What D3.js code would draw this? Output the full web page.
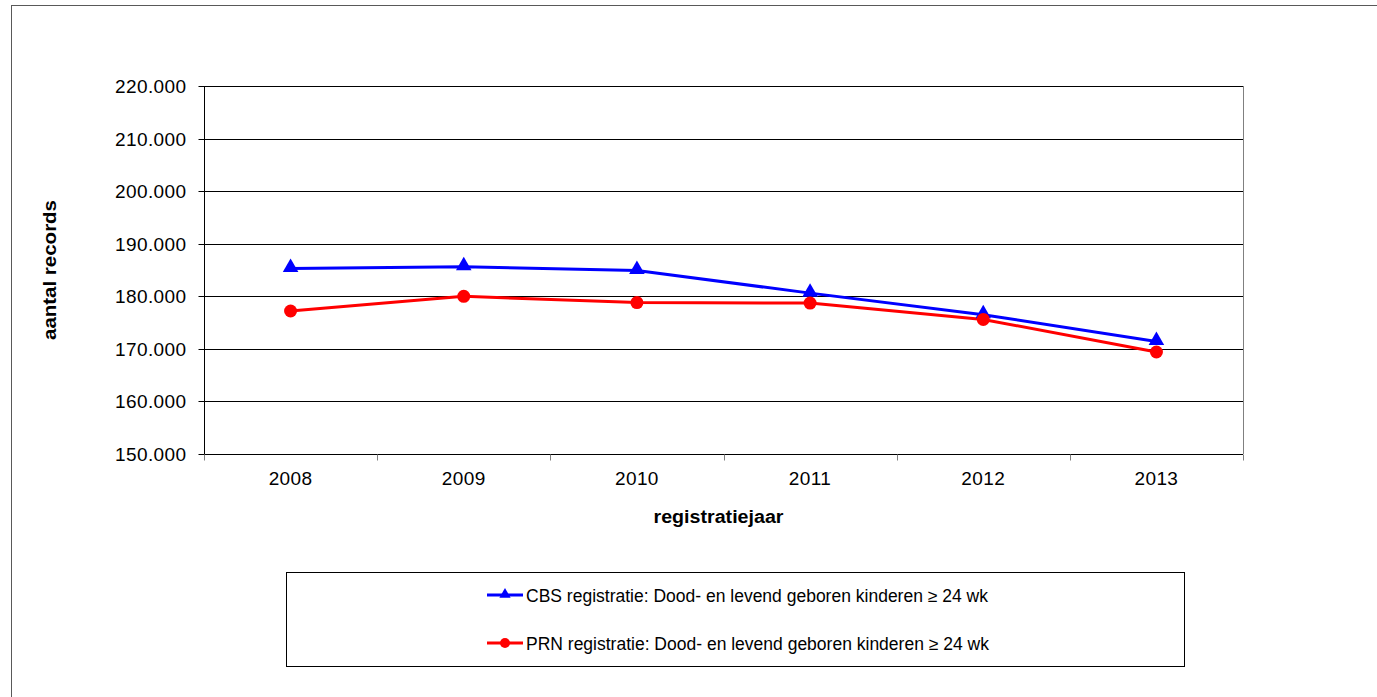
<!DOCTYPE html>
<html><head><meta charset="utf-8">
<script src="https://cdn.jsdelivr.net/npm/d3@7/dist/d3.min.js"></script>
<style>
html,body{margin:0;padding:0;background:#fff;}
svg{display:block;font-family:"Liberation Sans",Arial,sans-serif;}
</style></head>
<body>
<svg id="chart" width="1377" height="697"></svg>
<script>
const years = ["2008","2009","2010","2011","2012","2013"];
const cbsValues = [185300, 185600, 184900, 180600, 176500, 171400];
const prnValues = [177200, 180000, 178800, 178700, 175600, 169400];
const yTicks = [150000,160000,170000,180000,190000,200000,210000,220000];
const seriesNames = ["CBS registratie: Dood- en levend geboren kinderen \u2265 24 wk",
                     "PRN registratie: Dood- en levend geboren kinderen \u2265 24 wk"];
const xTitle = "registratiejaar";
const yTitle = "aantal records";

const svg = d3.select("#chart");
const L = 204, R = 1243, T = 86, B = 454;

const nl = d3.formatLocale({decimal:",", thousands:".", grouping:[3], currency:["€",""]});
const fmt = nl.format(",d");

const x = d3.scaleBand().domain(years).range([L, R]).padding(0);
const y = d3.scaleLinear().domain([150000, 220000]).range([B, T]);

// outer chart border
svg.append("rect").attr("x",11.5).attr("y",5.5).attr("width",1420).attr("height",740)
  .attr("fill","none").attr("stroke","#595959").attr("stroke-width",1);

// gridlines
svg.append("g").selectAll("line").data(yTicks).join("line")
  .attr("x1",L).attr("x2",R)
  .attr("y1",d=>Math.round(y(d))+0.5).attr("y2",d=>Math.round(y(d))+0.5)
  .attr("stroke","#000").attr("stroke-width",1);

// plot border right
svg.append("line").attr("x1",R+0.5).attr("x2",R+0.5).attr("y1",T).attr("y2",B)
  .attr("stroke","#808080").attr("stroke-width",1);

// y axis
const yAxis = d3.axisLeft(y).tickValues(yTicks).tickFormat(fmt).tickSize(6).tickPadding(12);
const gy = svg.append("g").attr("transform",`translate(${L+0.5},0)`).call(yAxis);
gy.select(".domain").attr("d",`M0,${T}V${B+5}`).attr("stroke","#000");
gy.selectAll(".tick").attr("transform",d=>`translate(0,${Math.round(y(d))+0.5})`);
gy.selectAll(".tick line").attr("stroke","#000");
gy.selectAll(".tick text").attr("font-size",19).attr("letter-spacing","0.4px")
  .attr("fill","#000").attr("font-family","Liberation Sans, Arial, sans-serif").attr("dy","0.35em");

// x axis
const gx = svg.append("g").attr("transform",`translate(0,${Math.round(B)+0.5})`);
gx.append("line").attr("x1",L).attr("x2",R).attr("stroke","#000");
const bounds = years.map(d=>x(d)).concat([x.range()[1]]);
gx.selectAll("line.tk").data(bounds).join("line").attr("class","tk")
  .attr("x1",d=>Math.round(d)+0.5).attr("x2",d=>Math.round(d)+0.5).attr("y1",0).attr("y2",6)
  .attr("stroke","#808080");
gx.selectAll("text").data(years).join("text")
  .attr("x",d=>x(d)+x.bandwidth()/2).attr("y",30)
  .attr("text-anchor","middle").attr("font-size",19).attr("letter-spacing","0.4px")
  .text(d=>d);

// axis titles
svg.append("text").attr("x",(L+R)/2-5).attr("y",523).attr("text-anchor","middle")
  .attr("font-size",18).attr("font-weight","bold")
  .attr("textLength",130).attr("lengthAdjust","spacingAndGlyphs").text(xTitle);
svg.append("text").attr("transform",`translate(56,${(T+B)/2}) rotate(-90)`)
  .attr("text-anchor","middle").attr("font-size",18).attr("font-weight","bold")
  .attr("textLength",140).attr("lengthAdjust","spacingAndGlyphs").text(yTitle);

// lines
const cx = d=>x(d)+x.bandwidth()/2;
const line = d3.line().x(d=>cx(d.year)).y(d=>y(d.v));
const cbs = years.map((yr,i)=>({year:yr, v:cbsValues[i]}));
const prn = years.map((yr,i)=>({year:yr, v:prnValues[i]}));

svg.append("path").datum(cbs).attr("d",line).attr("fill","none").attr("stroke","#0000FF").attr("stroke-width",3);
svg.append("path").datum(prn).attr("d",line).attr("fill","none").attr("stroke","#FF0000").attr("stroke-width",3);

const tri = d3.symbol().type(d3.symbolTriangle).size(105);
svg.append("g").selectAll("path").data(cbs).join("path")
  .attr("d",tri).attr("transform",d=>`translate(${cx(d.year)},${y(d.v)-1})`).attr("fill","#0000FF");
svg.append("g").selectAll("circle").data(prn).join("circle")
  .attr("cx",d=>cx(d.year)).attr("cy",d=>y(d.v)).attr("r",6.5).attr("fill","#FF0000");

// legend
svg.append("rect").attr("x",286.5).attr("y",572.5).attr("width",898).attr("height",94)
  .attr("fill","none").attr("stroke","#000").attr("stroke-width",1);
const legRows = [{name:seriesNames[0], color:"#0000FF", ly:595, ty:602, m:"tri"},
                 {name:seriesNames[1], color:"#FF0000", ly:643, ty:649.5, m:"circ"}];
const lg = svg.append("g").selectAll("g").data(legRows).join("g");
lg.append("line").attr("x1",487).attr("x2",523).attr("y1",d=>d.ly).attr("y2",d=>d.ly)
  .attr("stroke",d=>d.color).attr("stroke-width",3);
lg.filter(d=>d.m==="tri").append("path").attr("d",d3.symbol().type(d3.symbolTriangle).size(55))
  .attr("transform",d=>`translate(505,${d.ly-0.5})`).attr("fill",d=>d.color);
lg.filter(d=>d.m==="circ").append("circle").attr("cx",505).attr("cy",d=>d.ly).attr("r",5)
  .attr("fill",d=>d.color);
lg.append("text").attr("x",526).attr("y",d=>d.ty).attr("font-size",17.5).attr("fill","#000")
  .text(d=>d.name);
</script>
</body></html>
